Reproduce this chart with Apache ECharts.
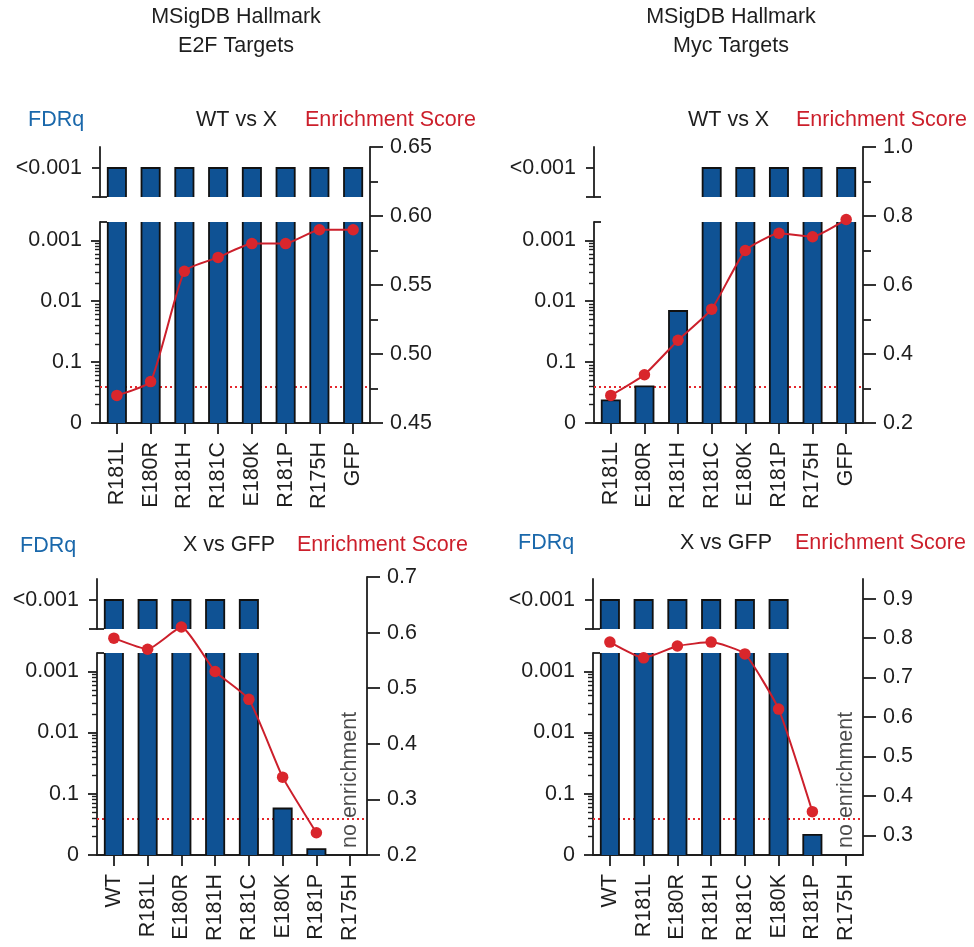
<!DOCTYPE html>
<html><head><meta charset="utf-8">
<script src="https://cdn.jsdelivr.net/npm/echarts@6/dist/echarts.min.js"></script>
<style>html,body{margin:0;padding:0;background:#fff}#c{width:974px;height:947px}</style>
</head><body><div id="c"></div>
<script>
// ---------------- DATA ----------------
const catsWTvsX = ['R181L','E180R','R181H','R181C','E180K','R181P','R175H','GFP'];
const catsXvsGFP = ['WT','R181L','E180R','R181H','R181C','E180K','R181P','R175H'];

const fdrE2F_WTvsX = ['<0.001','<0.001','<0.001','<0.001','<0.001','<0.001','<0.001','<0.001'];
const esE2F_WTvsX  = [0.47,0.48,0.56,0.57,0.58,0.58,0.59,0.59];

const fdrMyc_WTvsX = [0.425,0.25,0.0145,'<0.001','<0.001','<0.001','<0.001','<0.001'];
const esMyc_WTvsX  = [0.28,0.34,0.44,0.53,0.70,0.75,0.74,0.79];

const fdrE2F_XvsGFP = ['<0.001','<0.001','<0.001','<0.001','<0.001',0.174,0.8,null];
const esE2F_XvsGFP  = [0.59,0.57,0.61,0.53,0.48,0.34,0.24,null];

const fdrMyc_XvsGFP = ['<0.001','<0.001','<0.001','<0.001','<0.001','<0.001',0.468,null];
const esMyc_XvsGFP  = [0.79,0.75,0.78,0.79,0.76,0.62,0.36,null];

const fdrTickLabels = ['0','0.1','0.01','0.001'];
const fdrTopLabel = '<0.001';
const fdrThreshold = 0.25;

const esTicks_E2F_WT = [0.45,0.50,0.55,0.60,0.65];
const esMinor_E2F_WT = [0.475,0.525,0.575,0.625];
const esTicks_Myc_WT = [0.2,0.4,0.6,0.8,1.0];
const esMinor_Myc_WT = [0.3,0.5,0.7,0.9];
const esTicks_E2F_GFP = [0.2,0.3,0.4,0.5,0.6,0.7];
const esTicks_Myc_GFP = [0.3,0.4,0.5,0.6,0.7,0.8,0.9];

// ---------------- STYLE ----------------
const FONT = 'Liberation Sans, Arial, sans-serif';
const FS = 21.5;
const INK = '#1e1e1e';
const BAR_FILL = '#0f5294';
const BLUE = '#1a68ab';
const RED = '#cc1f2b';
const DOT = '#d9262c';
const AXW = 1.8;

const panels = [
  {L:100,R:370,T:147,UB:197,LT:222,B:423,ET:147,cats:catsWTvsX,fdr:fdrE2F_WTvsX,es:esE2F_WTvsX,
   esMin:0.45,esMax:0.65,major:esTicks_E2F_WT,minor:esMinor_E2F_WT,dec:2},
  {L:594,R:863,T:147,UB:197,LT:222,B:423,ET:147,cats:catsWTvsX,fdr:fdrMyc_WTvsX,es:esMyc_WTvsX,
   esMin:0.2,esMax:1.0,major:esTicks_Myc_WT,minor:esMinor_Myc_WT,dec:1},
  {L:97,R:367,T:579,UB:629,LT:653,B:855,ET:577,cats:catsXvsGFP,fdr:fdrE2F_XvsGFP,es:esE2F_XvsGFP,
   esMin:0.2,esMax:0.7,major:esTicks_E2F_GFP,minor:[],dec:1},
  {L:593,R:863,T:579,UB:629,LT:653,B:855,ET:579,cats:catsXvsGFP,fdr:fdrMyc_XvsGFP,es:esMyc_XvsGFP,
   esMin:0.25,esMax:0.95,major:esTicks_Myc_GFP,minor:[],dec:1}
];

const LOW_MAX = 3.3;   // -log10 units shown in lower segment
const UP_MAX = 50/29;  // upper segment scale, '<0.001' placed at 1

const minorLog = [];
for (let d = 0; d < 3; d++) for (let k = 2; k <= 9; k++) minorLog.push(+(d + Math.log10(k)).toFixed(4));

function renderBar(params, api) {
  const cs = params.coordSys;
  const i = api.value(0), v = api.value(1);
  const p = api.coord([i, v]);
  const b = api.coord([i, 0]);
  const w = api.size([1, 0])[0] * 0.54;
  const x0 = p[0] - w / 2, x1 = p[0] + w / 2;
  let yT = p[1];
  const clipped = yT < cs.y;
  if (clipped) yT = cs.y;
  const yB = Math.min(b[1], cs.y + cs.height);
  const st = {stroke: '#111', lineWidth: 1.8, fill: 'none'};
  const children = [{type: 'rect', shape: {x: x0, y: yT, width: w, height: yB - yT}, style: {fill: BAR_FILL}}];
  if (clipped) {
    children.push({type: 'line', shape: {x1: x0, y1: yT, x2: x0, y2: yB}, style: st});
    children.push({type: 'line', shape: {x1: x1, y1: yT, x2: x1, y2: yB}, style: st});
  } else {
    children.push({type: 'polyline', shape: {points: [[x0, yB], [x0, yT], [x1, yT], [x1, yB]]}, style: st});
  }
  return {type: 'group', children};
}

const option = {animation: false, backgroundColor: '#fff', grid: [], xAxis: [], yAxis: [], series: [], graphic: []};
const lineStyle = {color: INK, width: AXW};
const labelBase = {color: INK, fontSize: FS, fontFamily: FONT};

panels.forEach(P => {
  const g0 = option.grid.length;
  const W = P.R - P.L;
  option.grid.push({left: P.L, top: P.T, width: W, height: P.UB - P.T, outerBoundsMode: 'none'});
  option.grid.push({left: P.L, top: P.LT, width: W, height: P.B - P.LT, outerBoundsMode: 'none'});
  option.grid.push({left: P.L, top: P.ET, width: W, height: P.B - P.ET, outerBoundsMode: 'none'});
  const xU = option.xAxis.length;
  option.xAxis.push({type: 'category', gridIndex: g0, data: P.cats, show: false});
  option.xAxis.push({type: 'category', gridIndex: g0 + 1, data: P.cats,
    axisLine: {show: true, lineStyle}, axisTick: {show: true, alignWithLabel: true, length: 11, lineStyle},
    axisLabel: Object.assign({rotate: 90, margin: 19, interval: 0}, labelBase)});
  option.xAxis.push({type: 'category', gridIndex: g0 + 2, data: P.cats, show: false});
  const xL = xU + 1, xE = xU + 2;

  const y0 = option.yAxis.length;
  // upper segment
  option.yAxis.push({type: 'value', gridIndex: g0, position: 'left', min: 0, max: UP_MAX,
    axisLine: {show: true, onZero: false, lineStyle}, splitLine: {show: false},
    axisTick: {show: true, customValues: [0, 1], length: 8, lineStyle},
    axisLabel: Object.assign({customValues: [1], margin: 18, formatter: () => fdrTopLabel}, labelBase)});
  option.yAxis.push({type: 'value', gridIndex: g0, position: 'left', min: 0, max: UP_MAX,
    axisLine: {show: false, onZero: false}, splitLine: {show: false}, axisLabel: {show: false},
    axisTick: {show: true, inside: true, customValues: [0], length: 7, lineStyle}});
  // lower segment
  option.yAxis.push({type: 'value', gridIndex: g0 + 1, position: 'left', min: 0, max: LOW_MAX,
    axisLine: {show: true, onZero: false, lineStyle}, splitLine: {show: false},
    axisTick: {show: true, customValues: [0, 1, 2, 3], length: 9, lineStyle},
    axisLabel: Object.assign({customValues: [0, 1, 2, 3], margin: 18,
      formatter: v => fdrTickLabels[Math.round(v)]}, labelBase)});
  option.yAxis.push({type: 'value', gridIndex: g0 + 1, position: 'left', min: 0, max: LOW_MAX,
    axisLine: {show: false, onZero: false}, splitLine: {show: false}, axisLabel: {show: false},
    axisTick: {show: true, customValues: minorLog, length: 5, lineStyle: {color: INK, width: 1.4}}});
  option.yAxis.push({type: 'value', gridIndex: g0 + 1, position: 'left', min: 0, max: LOW_MAX,
    axisLine: {show: false, onZero: false}, splitLine: {show: false}, axisLabel: {show: false},
    axisTick: {show: true, inside: true, customValues: [LOW_MAX], length: 7, lineStyle}});
  // enrichment score axis
  option.yAxis.push({type: 'value', gridIndex: g0 + 2, position: 'right', min: P.esMin, max: P.esMax,
    axisLine: {show: true, onZero: false, lineStyle}, splitLine: {show: false},
    axisTick: {show: true, customValues: P.major, length: 13, lineStyle},
    axisLabel: Object.assign({customValues: P.major, margin: 20, formatter: v => v.toFixed(P.dec)}, labelBase)});
  if (P.minor.length) {
    option.yAxis.push({type: 'value', gridIndex: g0 + 2, position: 'right', min: P.esMin, max: P.esMax,
      axisLine: {show: false, onZero: false}, splitLine: {show: false}, axisLabel: {show: false},
      axisTick: {show: true, customValues: P.minor, length: 8, lineStyle}});
  }
  const yU = y0, yL = y0 + 2, yE = y0 + 5;

  const upData = [], lowData = [], noEnr = [];
  P.fdr.forEach((f, i) => {
    if (f === '<0.001') { upData.push([i, 1]); lowData.push([i, LOW_MAX + 1]); }
    else if (f == null) { noEnr.push([i, 0]); }
    else lowData.push([i, -Math.log10(f)]);
  });

  // threshold dotted line (behind bars)
  option.series.push({type: 'line', xAxisIndex: xL, yAxisIndex: yL, data: [], z: 1, silent: true,
    markLine: {silent: true, symbol: 'none', z: 1, label: {show: false},
      lineStyle: {color: '#e5262b', type: [2, 3], width: 1.8},
      data: [{yAxis: -Math.log10(fdrThreshold)}]}});
  option.series.push({type: 'custom', xAxisIndex: xU, yAxisIndex: yU, data: upData, renderItem: renderBar, z: 3, silent: true});
  option.series.push({type: 'custom', xAxisIndex: xL, yAxisIndex: yL, data: lowData, renderItem: renderBar, z: 3, silent: true});
  if (noEnr.length) {
    option.series.push({type: 'scatter', xAxisIndex: xL, yAxisIndex: yL, data: noEnr, symbolSize: 0, z: 4, silent: true,
      label: Object.assign({show: true, position: 'top', distance: 7, rotate: 90, align: 'left', verticalAlign: 'middle',
        formatter: () => 'no enrichment'}, labelBase)});
  }
  option.series.push({type: 'line', xAxisIndex: xE, yAxisIndex: yE, data: P.es, z: 6, silent: true,
    smooth: 0.15, symbol: 'circle', symbolSize: 11.5, showSymbol: true,
    itemStyle: {color: DOT}, lineStyle: {color: RED, width: 2}});
});

function txt(x, y, text, fill, align) {
  return {type: 'text', x, y, silent: true,
    style: {text, fill, fontSize: FS, fontFamily: FONT, font: FS + 'px ' + FONT,
      align: align || 'left', textAlign: align || 'left', verticalAlign: 'middle', textVerticalAlign: 'middle',
      lineHeight: 29}};
}
option.graphic = [
  txt(236, 32, 'MSigDB Hallmark\nE2F Targets', INK, 'center'),
  txt(731, 32, 'MSigDB Hallmark\nMyc Targets', INK, 'center'),
  txt(28, 120, 'FDRq', BLUE), txt(196, 120, 'WT vs X', INK), txt(305, 120, 'Enrichment Score', RED),
  txt(688, 120, 'WT vs X', INK), txt(796, 120, 'Enrichment Score', RED),
  txt(20, 546, 'FDRq', BLUE), txt(183, 545, 'X vs GFP', INK), txt(297, 545, 'Enrichment Score', RED),
  txt(518, 543, 'FDRq', BLUE), txt(680, 543, 'X vs GFP', INK), txt(795, 543, 'Enrichment Score', RED)
];

const chart = echarts.init(document.getElementById('c'), null, {renderer: 'canvas'});
chart.setOption(option);
</script>
</body></html>
